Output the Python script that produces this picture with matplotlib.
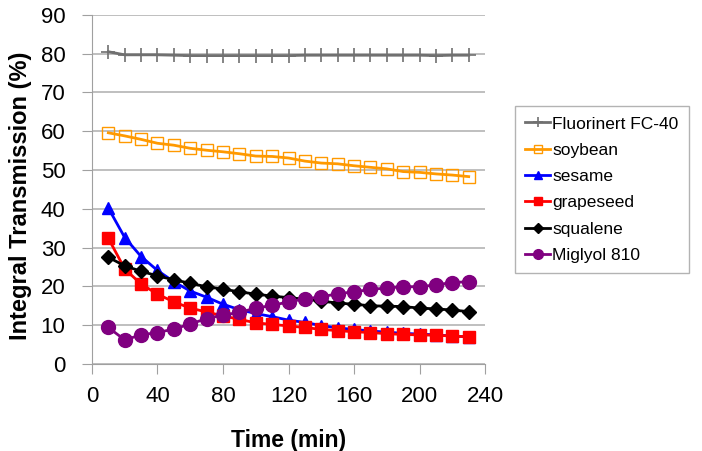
import numpy as np
import matplotlib
matplotlib.use("Agg")
import matplotlib.pyplot as plt

plt.rcParams['font.family'] = ['Liberation Sans', 'DejaVu Sans']

# tiempo de medicion (min)
time = [10, 20, 30, 40, 50, 60, 70, 80, 90, 100, 110, 120,
        130, 140, 150, 160, 170, 180, 190, 200, 210, 220, 230]

fluorinert = [80.5, 79.7, 79.7, 79.7, 79.6, 79.5, 79.5, 79.5, 79.5, 79.5, 79.5, 79.5,
              79.6, 79.6, 79.6, 79.6, 79.6, 79.6, 79.6, 79.6, 79.5, 79.6, 79.6]
soybean = [59.6, 58.8, 57.9, 56.9, 56.4, 55.6, 55.1, 54.7, 54.2, 53.6, 53.5, 53.1,
           52.3, 51.8, 51.6, 51.1, 50.7, 50.3, 49.6, 49.4, 49.0, 48.7, 48.3]
sesame = [40.2, 32.6, 27.7, 24.1, 21.2, 18.8, 17.2, 15.4, 14.0, 13.0, 12.2, 11.3,
          10.7, 9.9, 9.3, 8.9, 8.5, 8.2, 7.9, 7.7, 7.5, 7.2, 7.0]
grapeseed = [32.4, 24.5, 20.6, 18.0, 16.0, 14.4, 13.4, 12.4, 11.5, 10.6, 10.2, 9.8,
             9.4, 8.9, 8.6, 8.3, 8.1, 7.8, 7.6, 7.5, 7.4, 7.2, 7.0]
squalene = [27.5, 25.3, 23.9, 22.7, 21.7, 20.8, 19.9, 19.3, 18.6, 18.0, 17.5, 17.1,
            16.7, 16.2, 15.7, 15.4, 15.0, 14.9, 14.8, 14.4, 14.2, 13.9, 13.5]
miglyol = [9.4, 6.2, 7.5, 8.1, 9.0, 10.3, 11.7, 12.6, 13.3, 14.4, 15.1, 16.0,
           16.8, 17.3, 18.1, 18.6, 19.2, 19.6, 19.9, 19.9, 20.4, 21.0, 21.2]

fig = plt.figure(figsize=(7.02, 4.51), dpi=100)
ax = fig.add_axes([0.131, 0.193, 0.56, 0.774])

ax.plot(time, fluorinert, color='#707070', lw=2, marker='+', ms=10, mew=1.2,
        label='Fluorinert FC-40')
ax.plot(time, soybean, color='#FF9900', lw=2, marker='s', ms=9, mfc='none', mew=1,
        label='soybean')
ax.plot(time, sesame, color='#0000FF', lw=2, marker='^', ms=9, label='sesame')
ax.plot(time, grapeseed, color='#FF0000', lw=2, marker='s', ms=9, label='grapeseed')
ax.plot(time, squalene, color='#000000', lw=2, marker='D', ms=7, label='squalene')
ax.plot(time, miglyol, color='#800080', lw=2, marker='o', ms=10, label='Miglyol 810')

ax.set_xlim(0, 240)
ax.set_ylim(0, 90)
ax.set_xticks(np.arange(0, 241, 40))
ax.set_yticks(np.arange(0, 91, 10))
ax.yaxis.grid(True, color='#b4b4b4', lw=1.2)
ax.set_axisbelow(True)
for s in ['top', 'right']:
    ax.spines[s].set_visible(False)
for s in ['left', 'bottom']:
    ax.spines[s].set_color('#a0a0a0')
ax.tick_params(axis='both', labelsize=16, color='#a0a0a0', length=7)
ax.tick_params(axis='x', pad=9)
ax.tick_params(axis='y', pad=12)

ax.set_xlabel('Time (min)', fontsize=16.5, fontweight='bold', labelpad=16)
ax.set_ylabel('Integral Transmission (%)', fontsize=17, fontweight='bold')
ax.yaxis.set_label_coords(-0.153, 0.483)

leg = ax.legend(loc='upper left', bbox_to_anchor=(0.7336, 0.765),
                bbox_transform=fig.transFigure, borderaxespad=0, fontsize=12.5,
                frameon=True, fancybox=False, edgecolor='#a0a0a0',
                handlelength=1.4, handletextpad=0.15, labelspacing=0.64,
                borderpad=0.6, markerscale=0.7)
leg.get_frame().set_linewidth(1)

fig.savefig('out.png', dpi=100)
